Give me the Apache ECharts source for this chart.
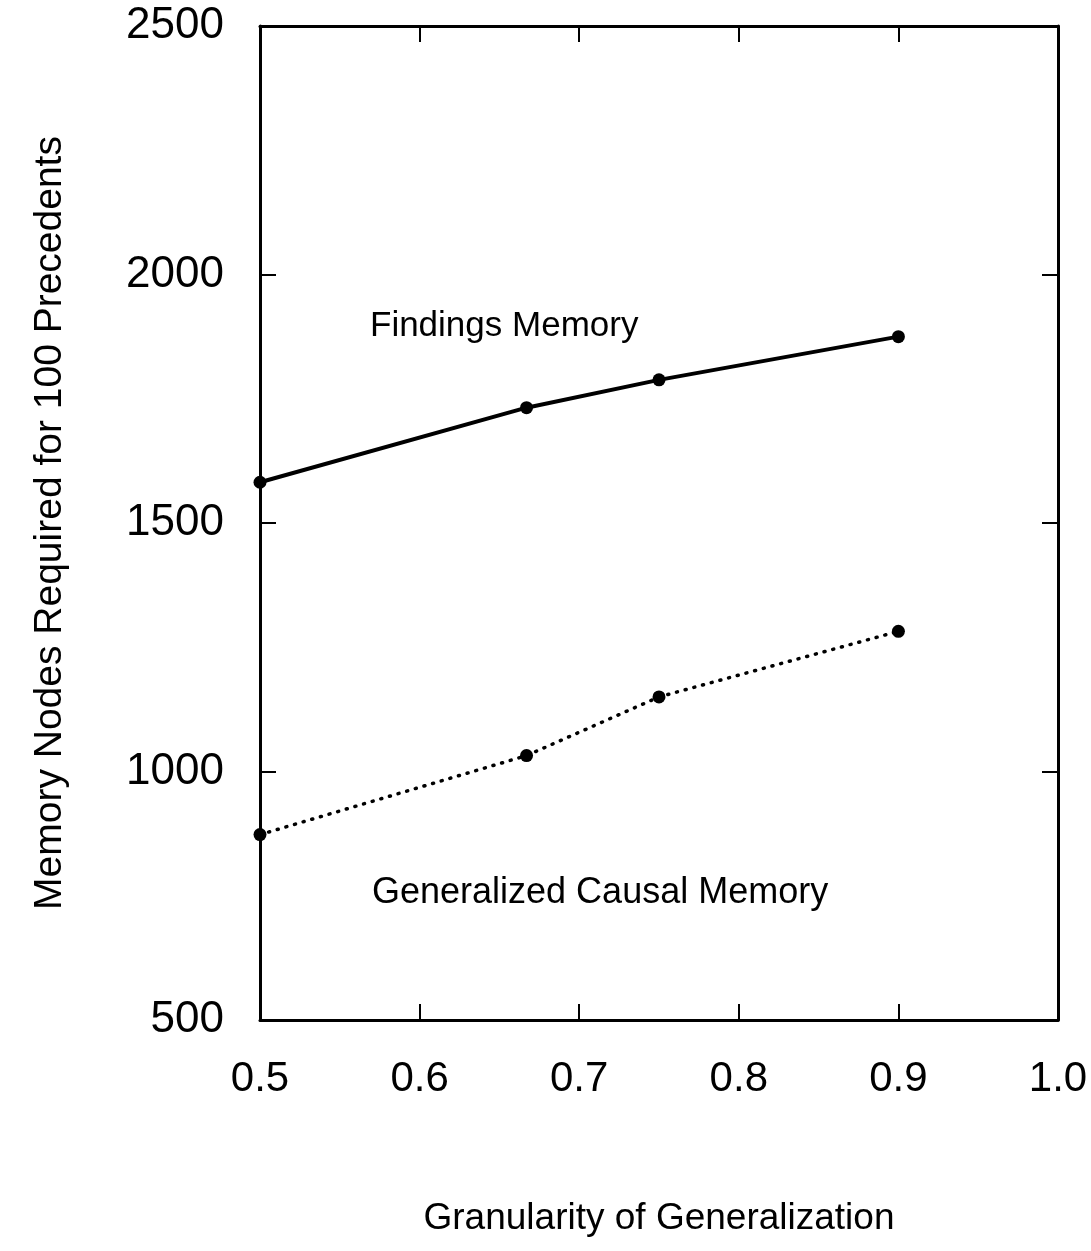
<!DOCTYPE html>
<html>
<head>
<meta charset="utf-8">
<script src="https://cdn.jsdelivr.net/npm/echarts@6/dist/echarts.min.js"></script>
<style>html,body{margin:0;padding:0;background:#fff;}#c{width:1091px;height:1251px;}</style>
</head>
<body>
<div id="c"></div>
<script>
const granularity = [0.5, 0.667, 0.75, 0.9];
const findingsMemory = [1582, 1732, 1788, 1875];
const causalMemory = [873, 1032, 1150, 1282];
const xTicks = [0.5, 0.6, 0.7, 0.8, 0.9, 1.0];
const yTicks = [500, 1000, 1500, 2000, 2500];
const seriesNames = ['Findings Memory', 'Generalized Causal Memory'];

const FONT = 'Liberation Sans';
const chart = echarts.init(document.getElementById('c'), null, {renderer: 'canvas'});

const axisLine = {show: true, lineStyle: {color: '#000', width: 3}};
const tick = {show: true, inside: true, length: 16, lineStyle: {color: '#000', width: 2}};

chart.setOption({
  backgroundColor: '#fff',
  animation: false,
  grid: {left: 260, right: 33, top: 26, bottom: 231, containLabel: false},
  xAxis: [{
    type: 'value', min: xTicks[0], max: xTicks[xTicks.length - 1], interval: 0.1,
    position: 'bottom',
    axisLine: axisLine, axisTick: tick, splitLine: {show: false},
    axisLabel: {color: '#000', fontFamily: FONT, fontSize: 42, margin: 38,
      formatter: v => v.toFixed(1)},
    name: 'Granularity of Generalization', nameLocation: 'middle', nameGap: 180,
    nameTextStyle: {color: '#000', fontFamily: FONT, fontSize: 37}
  }, {
    type: 'value', min: xTicks[0], max: xTicks[xTicks.length - 1], interval: 0.1,
    position: 'top',
    axisLine: axisLine, axisTick: tick, splitLine: {show: false},
    axisLabel: {show: false}
  }],
  yAxis: [{
    type: 'value', min: yTicks[0], max: yTicks[yTicks.length - 1], interval: 500,
    position: 'left',
    axisLine: axisLine, axisTick: tick, splitLine: {show: false},
    axisLabel: {color: '#000', fontFamily: FONT, fontSize: 44, margin: 36,
      formatter: v => String(v)},
    name: 'Memory Nodes Required for 100 Precedents', nameLocation: 'middle', nameGap: 190,
    nameTextStyle: {color: '#000', fontFamily: FONT, fontSize: 39}
  }, {
    type: 'value', min: yTicks[0], max: yTicks[yTicks.length - 1], interval: 500,
    position: 'right',
    axisLine: axisLine, axisTick: tick, splitLine: {show: false},
    axisLabel: {show: false}
  }],
  series: [{
    name: seriesNames[0], type: 'line',
    data: granularity.map((x, i) => [x, findingsMemory[i]]),
    symbol: 'circle', symbolSize: 13,
    itemStyle: {color: '#000'},
    lineStyle: {color: '#000', width: 4, type: 'solid'},
    z: 5
  }, {
    name: seriesNames[1], type: 'line',
    data: granularity.map((x, i) => [x, causalMemory[i]]),
    symbol: 'circle', symbolSize: 13,
    itemStyle: {color: '#000'},
    lineStyle: {color: '#000', width: 3.5, type: [1, 8], cap: 'round'},
    z: 5
  }],
  graphic: [{
    type: 'text', left: 370, top: 309,
    style: {text: seriesNames[0], font: '35px "' + FONT + '"', fill: '#000'}
  }, {
    type: 'text', left: 372, top: 875,
    style: {text: seriesNames[1], font: '36px "' + FONT + '"', fill: '#000'}
  }]
});
</script>
</body>
</html>
